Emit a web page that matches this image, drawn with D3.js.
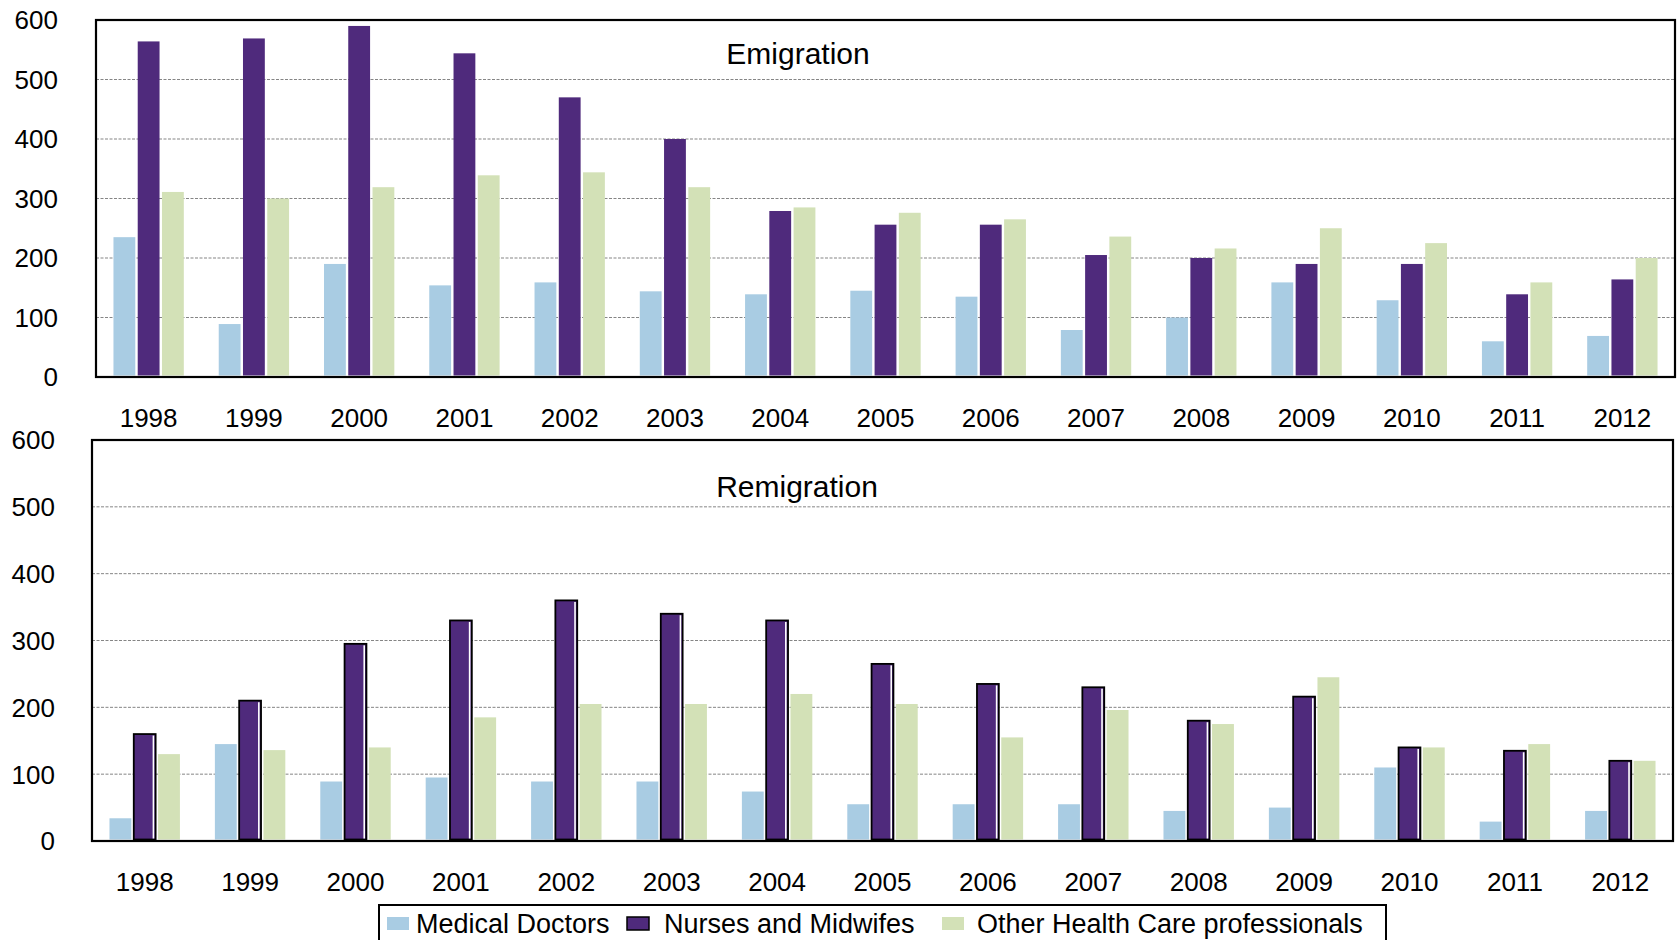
<!DOCTYPE html>
<html>
<head>
<meta charset="utf-8">
<script src="https://cdn.jsdelivr.net/npm/d3@7"></script>
<style>
    body { margin: 0; background: #fff; }
    svg { display: block; font-family: "Liberation Sans", Arial, sans-serif; }
</style>
</head>
<body>
<svg id="chart" width="1679" height="940"></svg>
<script>
"use strict";

// Years on the x axis
const years = ["1998", "1999", "2000", "2001", "2002", "2003", "2004", "2005",
               "2006", "2007", "2008", "2009", "2010", "2011", "2012"];

const seriesNames = ["Medical Doctors", "Nurses and Midwifes", "Other Health Care professionals"];

const yTicks = [0, 100, 200, 300, 400, 500, 600];

// Emigration
const emigDoctors = [235, 89, 190, 154, 159, 144, 139, 145, 135, 79, 100, 159, 129, 60, 69];
const emigNurses  = [564, 569, 590, 544, 470, 400, 279, 256, 256, 205, 200, 190, 190, 139, 164];
const emigOther   = [311, 300, 319, 339, 344, 319, 285, 276, 265, 236, 216, 250, 225, 159, 200];

// Remigration
const remigDoctors = [34, 145, 89, 95, 89, 89, 74, 55, 55, 55, 45, 50, 110, 29, 45];
const remigNurses  = [160, 210, 295, 330, 360, 340, 330, 265, 235, 230, 180, 216, 140, 135, 120];
const remigOther   = [130, 136, 140, 185, 205, 205, 220, 205, 155, 196, 175, 245, 140, 145, 120];

const colors = ["#a9cce3", "#4f2a7c", "#d3e1b7"];

var HC = {};

HC.svg = d3.select("#chart");

HC.color = d3.scaleOrdinal().domain(seriesNames).range(colors);

// Draw one panel: frame, grid, bars, axes labels and title
HC.drawPanel = function(opts)
{
    let rows = years.map((yr, i) => ({
        year: yr,
        vals: opts.series.map((s, k) => ({ name: seriesNames[k], v: s[i] }))
    }));

    let x0 = d3.scaleBand()
        .domain(years)
        .range([opts.left, opts.right]);

    let x1 = d3.scaleBand()
        .domain(seriesNames)
        .range([0, x0.bandwidth()])
        .paddingInner(0.1)
        .paddingOuter(0.72);

    let y = d3.scaleLinear()
        .domain([0, 600])
        .range([opts.bottom, opts.top]);

    let g = HC.svg.append("g");

    // dashed grid lines
    g.append("g")
        .selectAll("line")
        .data(yTicks.filter((t) => t > 0 && t < 600))
        .enter()
        .append("line")
        .attr("x1", opts.left)
        .attr("x2", opts.right)
        .attr("y1", (d) => y(d))
        .attr("y2", (d) => y(d))
        .attr("stroke", "#858585")
        .attr("stroke-width", 1)
        .attr("stroke-dasharray", "3,1.5");

    // bars
    let groups = g.append("g")
        .selectAll("g")
        .data(rows)
        .enter()
        .append("g")
        .attr("transform", (d) => "translate(" + x0(d.year) + ",0)");

    groups.selectAll("rect")
        .data((d) => d.vals)
        .enter()
        .append("rect")
        .attr("x", (d) => x1(d.name))
        .attr("y", (d) => y(d.v))
        .attr("width", x1.bandwidth())
        .attr("height", (d) => y(0) - y(d.v) - 1.5)
        .attr("fill", (d) => HC.color(d.name))
        .attr("stroke", (d) => (opts.outline && d.name === seriesNames[1]) ? "#000" : "none")
        .attr("stroke-width", 1.8);

    // white inner edge on the outlined bars
    if (opts.outline) {
        groups.append("line")
            .datum((d) => d.vals[1])
            .attr("x1", (d) => x1(d.name) + x1.bandwidth() - 2.2)
            .attr("x2", (d) => x1(d.name) + x1.bandwidth() - 2.2)
            .attr("y1", (d) => y(d.v) + 1.5)
            .attr("y2", y(0) - 2.5)
            .attr("stroke", "#fff")
            .attr("stroke-width", 1.6);
    }

    // frame
    g.append("rect")
        .attr("x", opts.left)
        .attr("y", opts.top)
        .attr("width", opts.right - opts.left)
        .attr("height", opts.bottom - opts.top)
        .attr("fill", "none")
        .attr("stroke", "#000")
        .attr("stroke-width", 2.2);

    // y labels
    g.append("g")
        .selectAll("text")
        .data(yTicks)
        .enter()
        .append("text")
        .attr("x", opts.labelX)
        .attr("y", (d) => y(d))
        .attr("dy", "0.36em")
        .attr("text-anchor", "end")
        .attr("font-size", 26)
        .text((d) => d);

    // x labels
    g.append("g")
        .selectAll("text")
        .data(years)
        .enter()
        .append("text")
        .attr("x", (d) => x0(d) + x0.bandwidth() / 2)
        .attr("y", opts.bottom + 50)
        .attr("text-anchor", "middle")
        .attr("font-size", 26)
        .text((d) => d);

    // title
    g.append("text")
        .attr("x", opts.titleX)
        .attr("y", opts.titleY)
        .attr("text-anchor", "middle")
        .attr("font-size", 30)
        .text(opts.title);
};

HC.drawLegend = function()
{
    let lg = HC.svg.append("g");

    lg.append("rect")
        .attr("x", 379)
        .attr("y", 905)
        .attr("width", 1007)
        .attr("height", 50)
        .attr("fill", "#fff")
        .attr("stroke", "#000")
        .attr("stroke-width", 2);

    let items = [
        { name: seriesNames[0], sx: 387, tx: 416 },
        { name: seriesNames[1], sx: 627, tx: 664 },
        { name: seriesNames[2], sx: 942, tx: 977 }
    ];

    lg.selectAll("rect.sw")
        .data(items)
        .enter()
        .append("rect")
        .attr("class", "sw")
        .attr("x", (d) => d.sx)
        .attr("y", 917)
        .attr("width", 22)
        .attr("height", 13)
        .attr("fill", (d) => HC.color(d.name))
        .attr("stroke", (d) => d.name === seriesNames[1] ? "#000" : "none")
        .attr("stroke-width", 1.5);

    lg.selectAll("text")
        .data(items)
        .enter()
        .append("text")
        .attr("x", (d) => d.tx)
        .attr("y", 933)
        .attr("font-size", 27)
        .text((d) => d.name);
};

(function () {

    HC.drawPanel({
        series: [emigDoctors, emigNurses, emigOther],
        left: 96, right: 1675, top: 20, bottom: 377,
        labelX: 58, title: "Emigration", titleX: 798, titleY: 64,
        outline: false
    });

    HC.drawPanel({
        series: [remigDoctors, remigNurses, remigOther],
        left: 92, right: 1673, top: 440, bottom: 841,
        labelX: 55, title: "Remigration", titleX: 797, titleY: 497,
        outline: true
    });

    HC.drawLegend();

}());
</script>
</body>
</html>
